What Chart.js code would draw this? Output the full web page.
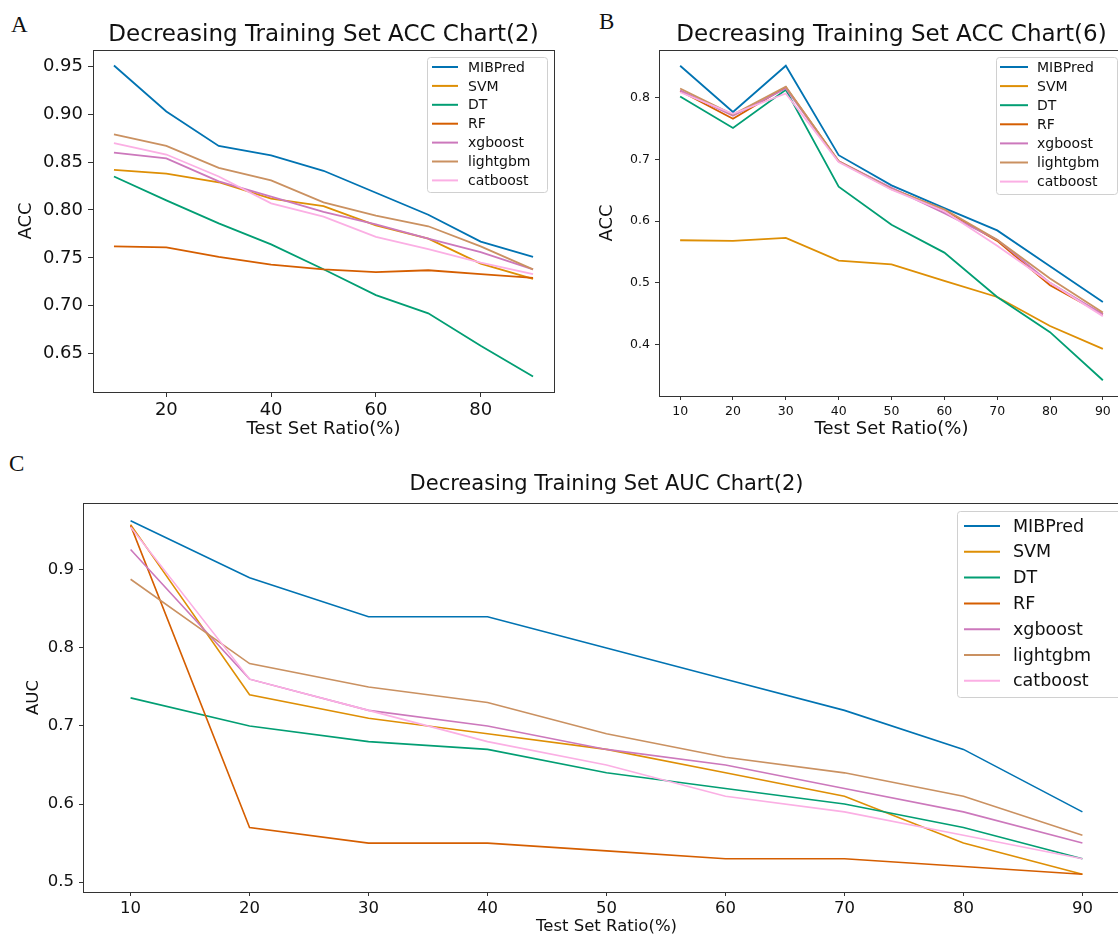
<!DOCTYPE html>
<html lang="en">
<head>
<meta charset="utf-8" />
<title>Decreasing training set charts</title>
<style>
  * { margin: 0; padding: 0; }
  body {
    width: 1118px;
    height: 937px;
    overflow: hidden;
    background: #fff;
    position: relative;
    font-family: "DejaVu Sans", sans-serif;
  }
  .panel { position: absolute; }
  .tag {
    position: absolute;
    font-family: "Liberation Serif", "DejaVu Serif", serif;
    font-size: 23px;
    color: #111;
  }
</style>
</head>
<body>
<div class="tag" style="left:11px; top:12px">A</div>
<div class="tag" style="left:599px; top:9px">B</div>
<div class="tag" style="left:9px; top:451px">C</div>

<div class="panel" style="left:0; top:0; width:558px; height:440px"><canvas id="chartA"></canvas></div>
<div class="panel" style="left:590px; top:0; width:538px; height:440px"><canvas id="chartB"></canvas></div>
<div class="panel" style="left:0; top:440px; width:1134px; height:497px"><canvas id="chartC"></canvas></div>

<script src="https://cdn.jsdelivr.net/npm/chart.js"></script>
<script>
// ---- data ----
const ratios = [10, 20, 30, 40, 50, 60, 70, 80, 90];
const models = ["MIBPred", "SVM", "DT", "RF", "xgboost", "lightgbm", "catboost"];
const colors = ["#0173B2", "#DE8F05", "#029E73", "#D55E00", "#CC78BC", "#CA9161", "#FBAFE4"];

// A: ACC chart (2)
const accA_MIBPred  = [0.951, 0.903, 0.867, 0.857, 0.841, 0.818, 0.795, 0.767, 0.751];
const accA_SVM      = [0.842, 0.838, 0.829, 0.812, 0.804, 0.784, 0.770, 0.744, 0.728];
const accA_DT       = [0.835, 0.810, 0.786, 0.764, 0.738, 0.711, 0.692, 0.658, 0.626];
const accA_RF       = [0.762, 0.761, 0.751, 0.743, 0.738, 0.735, 0.737, 0.733, 0.729];
const accA_xgboost  = [0.860, 0.854, 0.830, 0.814, 0.798, 0.785, 0.770, 0.756, 0.738];
const accA_lightgbm = [0.879, 0.867, 0.844, 0.831, 0.808, 0.794, 0.783, 0.762, 0.738];
const accA_catboost = [0.870, 0.858, 0.835, 0.807, 0.793, 0.772, 0.759, 0.745, 0.733];

// B: ACC chart (6)
const accB_MIBPred  = [0.852, 0.777, 0.852, 0.707, 0.658, 0.621, 0.585, 0.527, 0.469];
const accB_SVM      = [0.569, 0.568, 0.573, 0.536, 0.530, 0.503, 0.477, 0.430, 0.393];
const accB_DT       = [0.802, 0.751, 0.813, 0.656, 0.594, 0.549, 0.477, 0.420, 0.342];
const accB_RF       = [0.811, 0.766, 0.817, 0.697, 0.653, 0.618, 0.568, 0.496, 0.449];
const accB_xgboost  = [0.812, 0.771, 0.815, 0.697, 0.654, 0.613, 0.570, 0.500, 0.449];
const accB_lightgbm = [0.815, 0.773, 0.818, 0.697, 0.652, 0.619, 0.570, 0.507, 0.452];
const accB_catboost = [0.809, 0.774, 0.807, 0.696, 0.651, 0.616, 0.560, 0.500, 0.446];

// C: AUC chart (2)
const aucC_MIBPred  = [0.963, 0.89, 0.84, 0.84, 0.80, 0.76, 0.72, 0.67, 0.59];
const aucC_SVM      = [0.958, 0.74, 0.71, 0.69, 0.67, 0.64, 0.61, 0.55, 0.51];
const aucC_DT       = [0.736, 0.70, 0.68, 0.67, 0.64, 0.62, 0.60, 0.57, 0.53];
const aucC_RF       = [0.957, 0.57, 0.55, 0.55, 0.54, 0.53, 0.53, 0.52, 0.51];
const aucC_xgboost  = [0.926, 0.76, 0.72, 0.70, 0.67, 0.65, 0.62, 0.59, 0.55];
const aucC_lightgbm = [0.888, 0.78, 0.75, 0.73, 0.69, 0.66, 0.64, 0.61, 0.56];
const aucC_catboost = [0.955, 0.76, 0.72, 0.68, 0.65, 0.61, 0.59, 0.56, 0.53];

// tick labels
const xTicksA = [20, 40, 60, 80];
const yTicksA = [0.65, 0.70, 0.75, 0.80, 0.85, 0.90, 0.95];
const xTicksB = [10, 20, 30, 40, 50, 60, 70, 80, 90];
const yTicksB = [0.4, 0.5, 0.6, 0.7, 0.8];
const xTicksC = [10, 20, 30, 40, 50, 60, 70, 80, 90];
const yTicksC = [0.5, 0.6, 0.7, 0.8, 0.9];

const FONT = "DejaVu Sans";
const INK = "#111";

// matplotlib-like 5% margins
function padRange(lo, hi) {
  const m = (hi - lo) * 0.05;
  return [lo - m, hi + m];
}

function buildDatasets(series, lw) {
  return series.map((vals, i) => ({
    label: models[i],
    data: ratios.map((r, j) => ({ x: r, y: vals[j] })),
    borderColor: colors[i],
    backgroundColor: colors[i],
    borderWidth: lw,
    pointRadius: 0,
    tension: 0,
    fill: false,
    order: series.length - i // later series on top, like matplotlib
  }));
}

// frame, title and in-plot legend
const framePlugin = {
  id: "frame",
  afterDraw(chart, args, o) {
    const { ctx, chartArea: a } = chart;
    ctx.save();
    ctx.strokeStyle = "#333";
    ctx.lineWidth = 1;
    ctx.strokeRect(Math.round(a.left) + 0.5, Math.round(a.top) + 0.5,
      Math.round(a.right - a.left), Math.round(a.bottom - a.top));

    ctx.fillStyle = INK;
    ctx.font = o.titleSize + "px '" + FONT + "'";
    ctx.textAlign = "center";
    ctx.textBaseline = "middle";
    ctx.fillText(o.title, (a.left + a.right) / 2, o.titleY);

    const L = o.legend;
    const x0 = a.right - L.right - L.width;
    const y0 = a.top + L.top;
    ctx.beginPath();
    ctx.roundRect(x0 + 0.5, y0 + 0.5, L.width, L.height, 3);
    ctx.fillStyle = "rgba(255,255,255,0.8)";
    ctx.fill();
    ctx.strokeStyle = "#d0d0d0";
    ctx.stroke();
    ctx.font = L.size + "px '" + FONT + "'";
    ctx.textAlign = "left";
    chart.data.datasets.forEach((ds, i) => {
      const y = y0 + L.first + i * L.rowH;
      ctx.strokeStyle = ds.borderColor;
      ctx.lineWidth = 2;
      ctx.beginPath();
      ctx.moveTo(x0 + L.lineX, y);
      ctx.lineTo(x0 + L.lineX + L.lineLen, y);
      ctx.stroke();
      ctx.fillStyle = INK;
      ctx.fillText(ds.label, x0 + L.textX, y + 1);
    });
    ctx.restore();
  }
};

function makeChart(id, p) {
  const all = p.series.flat();
  const [ymin, ymax] = padRange(Math.min(...all), Math.max(...all));
  const [xmin, xmax] = padRange(ratios[0], ratios[ratios.length - 1]);
  return new Chart(document.getElementById(id), {
    type: "line",
    data: { datasets: buildDatasets(p.series, p.lw) },
    options: {
      responsive: true,
      maintainAspectRatio: false,
      animation: false,
      layout: { padding: { top: p.padTop, right: 4, left: 0, bottom: 0 } },
      plugins: {
        legend: { display: false },
        tooltip: { enabled: false },
        frame: { title: p.title, titleY: p.titleY, titleSize: p.titleSize, legend: p.legend }
      },
      scales: {
        x: {
          type: "linear",
          min: xmin,
          max: xmax,
          afterBuildTicks: (s) => { s.ticks = p.xTicks.map((v) => ({ value: v })); },
          afterFit: (s) => { s.height = p.xH; },
          grid: { drawOnChartArea: false, drawTicks: true, tickLength: p.tickLen, color: "#333" },
          border: { display: false },
          ticks: {
            autoSkip: false, maxRotation: 0, padding: p.xPad, color: INK,
            font: { family: FONT, size: p.tickSize },
            callback: (v) => String(v)
          },
          title: {
            display: true, text: "Test Set Ratio(%)", color: INK,
            font: { family: FONT, size: p.labelSize }, padding: { top: 0, bottom: 0 }
          }
        },
        y: {
          min: ymin,
          max: ymax,
          afterBuildTicks: (s) => { s.ticks = p.yTicks.map((v) => ({ value: v })); },
          afterFit: (s) => { s.width = p.yW; },
          grid: { drawOnChartArea: false, drawTicks: true, tickLength: p.tickLen, color: "#333" },
          border: { display: false },
          ticks: {
            autoSkip: false, padding: 5, color: INK,
            font: { family: FONT, size: p.tickSize },
            callback: (v) => Number(v).toFixed(p.yDec)
          },
          title: {
            display: true, text: p.yLabel, color: INK,
            font: { family: FONT, size: p.labelSize }, padding: { top: p.yTitlePad, bottom: 0 }
          }
        }
      }
    },
    plugins: [framePlugin]
  });
}

makeChart("chartA", {
  series: [accA_MIBPred, accA_SVM, accA_DT, accA_RF, accA_xgboost, accA_lightgbm, accA_catboost],
  lw: 1.8, title: "Decreasing Training Set ACC Chart(2)", titleY: 35, titleSize: 23,
  padTop: 50, xH: 48, yW: 93, xTicks: xTicksA, yTicks: yTicksA, yDec: 2,
  tickLen: 5, xPad: 3, tickSize: 18, labelSize: 18, yLabel: "ACC", yTitlePad: 16,
  legend: { right: 7, top: 7, width: 120, height: 135, first: 10, rowH: 18.9, lineX: 5, lineLen: 26, textX: 41, size: 14 }
});

makeChart("chartB", {
  series: [accB_MIBPred, accB_SVM, accB_DT, accB_RF, accB_xgboost, accB_lightgbm, accB_catboost],
  lw: 1.8, title: "Decreasing Training Set ACC Chart(6)", titleY: 35, titleSize: 23,
  padTop: 50, xH: 44, yW: 69, xTicks: xTicksB, yTicks: yTicksB, yDec: 1,
  tickLen: 4, xPad: 4, tickSize: 12.5, labelSize: 18, yLabel: "ACC", yTitlePad: 7,
  legend: { right: 7, top: 7, width: 121, height: 137, first: 10, rowH: 19.1, lineX: 4, lineLen: 28, textX: 41, size: 14 }
});

makeChart("chartC", {
  series: [aucC_MIBPred, aucC_SVM, aucC_DT, aucC_RF, aucC_xgboost, aucC_lightgbm, aucC_catboost],
  lw: 1.6, title: "Decreasing Training Set AUC Chart(2)", titleY: 45, titleSize: 21,
  padTop: 63, xH: 45, yW: 83, xTicks: xTicksC, yTicks: yTicksC, yDec: 1,
  tickLen: 4, xPad: 3, tickSize: 16.5, labelSize: 16.5, yLabel: "AUC", yTitlePad: 24,
  legend: { right: 7, top: 8, width: 166, height: 186, first: 15, rowH: 25.8, lineX: 7, lineLen: 36, textX: 56, size: 17.5 }
});
</script>
</body>
</html>
